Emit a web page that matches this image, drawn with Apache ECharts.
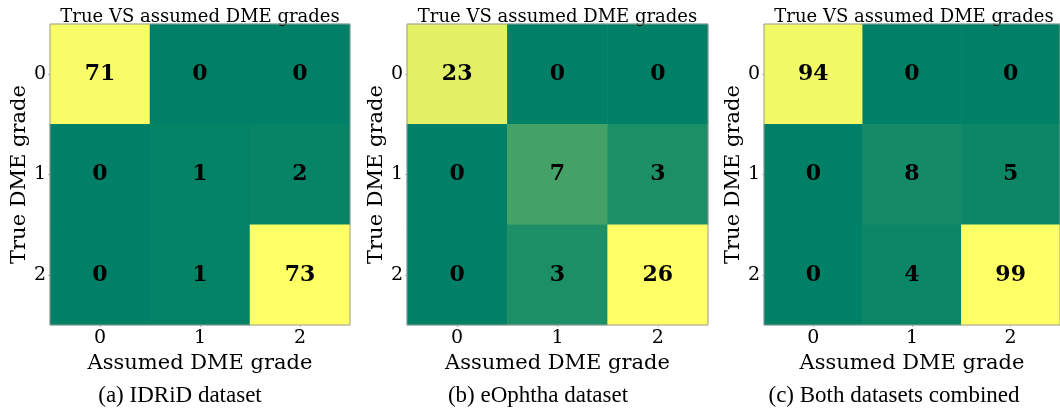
<!DOCTYPE html>
<html>
<head>
<meta charset="utf-8">
<style type="text/css">
    body { margin: 0; padding: 0; background: #fff; }
    #main { width: 1060px; height: 411px; }
</style>
<script src="https://cdn.jsdelivr.net/npm/echarts@6/dist/echarts.min.js"></script>
</head>
<body>
<div id="main"></div>
<script type="text/javascript">
// rows = true grade, columns = assumed grade
var grades = ['0', '1', '2'];
var idridMatrix = [[71, 0, 0], [0, 1, 2], [0, 1, 73]];
var eophthaMatrix = [[23, 0, 0], [0, 7, 3], [0, 3, 26]];
var combinedMatrix = [[94, 0, 0], [0, 8, 5], [0, 4, 99]];
var captions = ['(a) IDRiD dataset', '(b) eOphtha dataset', '(c) Both datasets combined'];
var panelTitle = 'True VS assumed DME grades';

var matrices = [idridMatrix, eophthaMatrix, combinedMatrix];
var lefts = [50, 407, 764];
var widths = [300, 301, 300];
var captionCenters = [180, 538, 894];

var serif = '"DejaVu Serif", serif';
var times = '"Liberation Serif", "Times New Roman", serif';

function toCells(m) {
    var out = [];
    m.forEach(function (row, y) {
        row.forEach(function (v, x) { out.push([x, y, v]); });
    });
    return out;
}

var titles = [], grids = [], xAxes = [], yAxes = [], series = [], visualMaps = [];
matrices.forEach(function (m, i) {
    var cx = lefts[i] + widths[i] / 2;
    // title padding shifts centred text by 5px, compensate
    titles.push({
        text: panelTitle, left: cx - 5, top: 3, textAlign: 'center',
        textStyle: { fontFamily: serif, fontSize: 18, fontWeight: 'normal', color: '#000' }
    });
    titles.push({
        text: captions[i], left: captionCenters[i] - 5, top: 379, textAlign: 'center',
        textStyle: { fontFamily: times, fontSize: 23, fontWeight: 'normal', color: '#000' }
    });
    grids.push({
        left: lefts[i], top: 24, width: widths[i], height: 301,
        show: true, z: 10, borderColor: '#9a9a9a', borderWidth: 1,
        backgroundColor: 'transparent'
    });
    xAxes.push({
        type: 'category', gridIndex: i, data: grades, position: 'bottom',
        name: 'Assumed DME grade', nameLocation: 'middle', nameGap: 26,
        nameTextStyle: { fontFamily: serif, fontSize: 21, color: '#000' },
        axisLine: { show: false },
        axisTick: { show: true, alignWithLabel: true, length: 2, lineStyle: { color: '#bbb' } },
        axisLabel: { fontFamily: serif, fontSize: 19, color: '#000', margin: 4 },
        splitLine: { show: false }, splitArea: { show: false }
    });
    yAxes.push({
        type: 'category', gridIndex: i, data: grades, inverse: true,
        name: 'True DME grade', nameLocation: 'middle', nameGap: 19,
        nameTextStyle: { fontFamily: serif, fontSize: 21, color: '#000' },
        axisLine: { show: false },
        axisTick: { show: true, alignWithLabel: true, length: 2, lineStyle: { color: '#bbb' } },
        axisLabel: { fontFamily: serif, fontSize: 19, color: '#000', margin: 4 },
        splitLine: { show: false }, splitArea: { show: false }
    });
    var maxVal = Math.max.apply(null, m.map(function (r) { return Math.max.apply(null, r); }));
    visualMaps.push({
        type: 'continuous', show: false, seriesIndex: i, dimension: 2,
        min: 0, max: maxVal,
        inRange: { color: ['#008066', '#ffff66'] }
    });
    series.push({
        type: 'heatmap', xAxisIndex: i, yAxisIndex: i, data: toCells(m),
        label: {
            show: true, fontFamily: serif, fontSize: 22, fontWeight: 'bold', color: '#000',
            formatter: function (p) { return p.value[2]; }
        },
        itemStyle: { borderWidth: 0 },
        emphasis: { disabled: true }
    });
});

var myChart = echarts.init(document.getElementById('main'));
myChart.setOption({
    backgroundColor: '#fff',
    animation: false,
    title: titles,
    grid: grids,
    xAxis: xAxes,
    yAxis: yAxes,
    visualMap: visualMaps,
    series: series
});
</script>
</body>
</html>
